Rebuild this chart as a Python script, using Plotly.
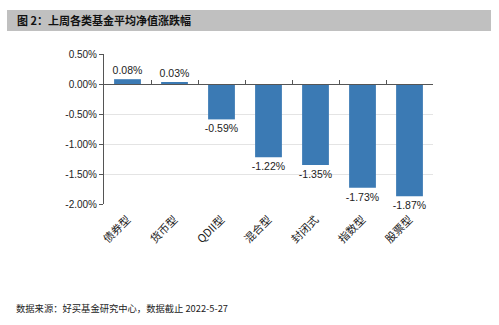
import plotly.graph_objects as go

# Fund categories and their average weekly NAV change (%)
categories = ["债券型", "货币型", "QDII型", "混合型", "封闭式", "指数型", "股票型"]
changes = [0.08, 0.03, -0.59, -1.22, -1.35, -1.73, -1.87]
y_tick_vals = [0.5, 0.0, -0.5, -1.0, -1.5, -2.0]
y_tick_text = ["0.50%", "0.00%", "-0.50%", "-1.00%", "-1.50%", "-2.00%"]

title_text = "图 2：上周各类基金平均净值涨跌幅"
source_text = "数据来源：好买基金研究中心，数据截止 2022-5-27"

W, H = 499, 325
L, R, T, B = 104, 66, 54, 121
y_range = [-2.0, 0.5]

def px_x(p):
    return (p - L) / (W - L - R)

def px_y(p):
    return (H - B - p) / (H - T - B)

cjk = "Noto Sans CJK SC, Arial, sans-serif"
bar_color = "#3b7ab4"
axis_color = "#555555"

fig = go.Figure()
fig.add_trace(go.Bar(
    x=categories,
    y=changes,
    marker=dict(color=bar_color, line=dict(width=0)),
    text=[f"{v:.2f}%" for v in changes],
    textposition="outside",
    textfont=dict(family="Arial, sans-serif", size=10.5, color="#222222"),
    constraintext="none",
    cliponaxis=False,
    hoverinfo="skip",
))
# Invisible companion trace that carries the category boundary ticks on the zero line
fig.add_trace(go.Scatter(
    x=categories,
    y=changes,
    xaxis="x2",
    mode="markers",
    marker=dict(opacity=0),
    hoverinfo="skip",
    showlegend=False,
))

zero_pos = (0 - y_range[0]) / (y_range[1] - y_range[0])

fig.update_layout(
    width=W,
    height=H,
    margin=dict(l=L, r=R, t=T, b=B),
    paper_bgcolor="white",
    plot_bgcolor="white",
    showlegend=False,
    bargap=0.43,
    xaxis=dict(
        type="category",
        range=[-0.5, len(categories) - 0.5],
        tickangle=-45,
        tickfont=dict(family=cjk, size=11, color="#222222"),
        ticklabelstandoff=6,
        showline=False,
        showgrid=False,
        ticks="",
        fixedrange=True,
    ),
    xaxis2=dict(
        type="category",
        overlaying="x",
        anchor="free",
        position=zero_pos,
        range=[-0.5, len(categories) - 0.5],
        showline=True,
        linecolor=axis_color,
        linewidth=1,
        ticks="inside",
        tickson="boundaries",
        ticklen=4,
        tickcolor=axis_color,
        showticklabels=False,
        showgrid=False,
    ),
    yaxis=dict(
        range=y_range,
        tickvals=y_tick_vals,
        ticktext=y_tick_text,
        tickfont=dict(family="Arial, sans-serif", size=10, color="#222222"),
        showline=True,
        linecolor=axis_color,
        linewidth=1,
        ticks="outside",
        ticklen=4,
        tickcolor=axis_color,
        showgrid=True,
        gridcolor="#e4e4e4",
        gridwidth=1,
        zeroline=False,
        fixedrange=True,
    ),
    shapes=[
        dict(
            type="rect", xref="paper", yref="paper",
            x0=px_x(7), x1=px_x(491), y0=px_y(31), y1=px_y(10),
            fillcolor="#c0c0c0", line=dict(width=0), layer="below",
        ),
    ],
    annotations=[
        dict(
            text=f"<b>{title_text}</b>", xref="paper", yref="paper",
            x=px_x(15), y=px_y(20.5), xanchor="left", yanchor="middle",
            showarrow=False, font=dict(family=cjk, size=11, color="#111111"),
        ),
        dict(
            text=source_text, xref="paper", yref="paper",
            x=px_x(14), y=px_y(308), xanchor="left", yanchor="middle",
            showarrow=False, font=dict(family=cjk, size=9.3, color="#222222"),
        ),
    ],
)

fig.write_html("out.html")
